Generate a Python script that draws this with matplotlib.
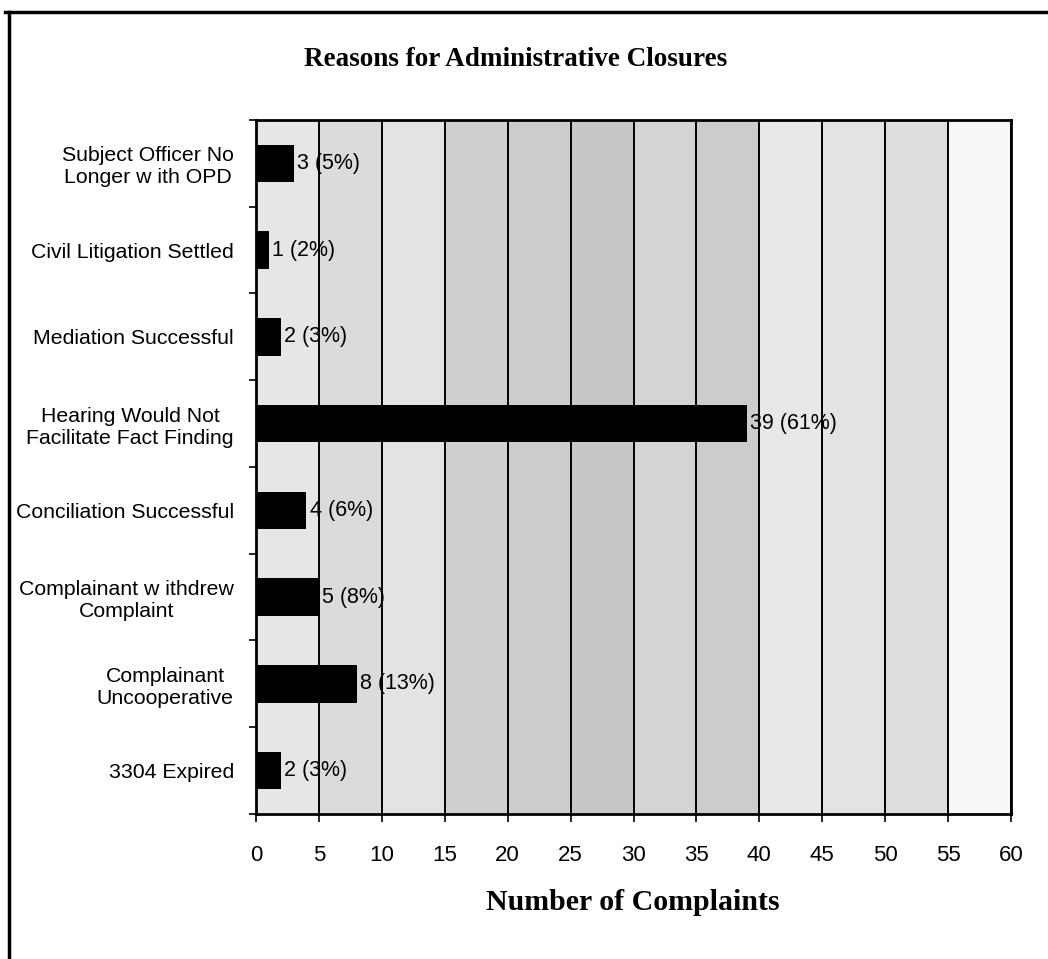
import matplotlib
matplotlib.use("Agg")
import matplotlib.pyplot as plt
from matplotlib.lines import Line2D
import numpy as np

plt.rcParams['font.family'] = 'Liberation Sans'

# reasons, top to bottom
reasons = ["Subject Officer No\nLonger w ith OPD",
           "Civil Litigation Settled",
           "Mediation Successful",
           "Hearing Would Not\nFacilitate Fact Finding",
           "Conciliation Successful",
           "Complainant w ithdrew\nComplaint",
           "Complainant\nUncooperative",
           "3304 Expired"]
counts = [3, 1, 2, 39, 4, 5, 8, 2]
percents = [5, 2, 3, 61, 6, 8, 13, 3]
xticks = list(range(0, 65, 5))

# shade of each 5-wide column of the plot area
band_grays = [0.90, 0.86, 0.89, 0.81, 0.80, 0.78, 0.83, 0.80, 0.91, 0.89, 0.87, 0.97]

fig = plt.figure(figsize=(10.48, 9.59), dpi=100)
ax = fig.add_axes([0.2443, 0.1512, 0.7204, 0.7237])

for k, g in enumerate(band_grays):
    ax.axvspan(xticks[k], xticks[k + 1], color=str(g), lw=0, zorder=0)

y = np.arange(len(reasons))
ax.barh(y, counts, height=0.43, color='black', zorder=3)
for yi, c, p in zip(y, counts, percents):
    ax.text(c + 0.25, yi, f"{c} ({p}%)", va='center', ha='left', fontsize=15.5, zorder=4)

ax.set_xlim(0, 60)
ax.set_ylim(len(reasons) - 0.5, -0.5)
ax.set_xticks(xticks)
ax.set_xticklabels([str(t) for t in xticks], fontsize=16)
ax.tick_params(axis='x', length=6, width=1.2, pad=16, direction='out')

ax.set_yticks(y)
ax.set_yticklabels(reasons, fontsize=15.3, multialignment='center')
ax.set_yticks(np.arange(len(reasons) + 1) - 0.5, minor=True)
ax.tick_params(axis='y', which='major', length=0, pad=16)
ax.tick_params(axis='y', which='minor', length=5, width=1.2, direction='out')

ax.grid(axis='x', color='black', lw=1.4, zorder=2)
ax.set_axisbelow(False)
for s in ax.spines.values():
    s.set_linewidth(2)
    s.set_zorder(5)

fig.text(0.492, 0.938, "Reasons for Administrative Closures", ha='center', va='center',
         fontsize=19.5, fontweight='bold', family='Liberation Serif')
fig.text(0.604, 0.0584, "Number of Complaints", ha='center', va='center',
         fontsize=21.5, fontweight='bold', family='Liberation Serif')

# page frame
fig.add_artist(Line2D([0.005, 1.0], [0.987, 0.987], color='black', lw=2.5, transform=fig.transFigure))
fig.add_artist(Line2D([0.009, 0.009], [0.0, 0.987], color='black', lw=2.5, transform=fig.transFigure))

fig.savefig("out.png", dpi=100)
